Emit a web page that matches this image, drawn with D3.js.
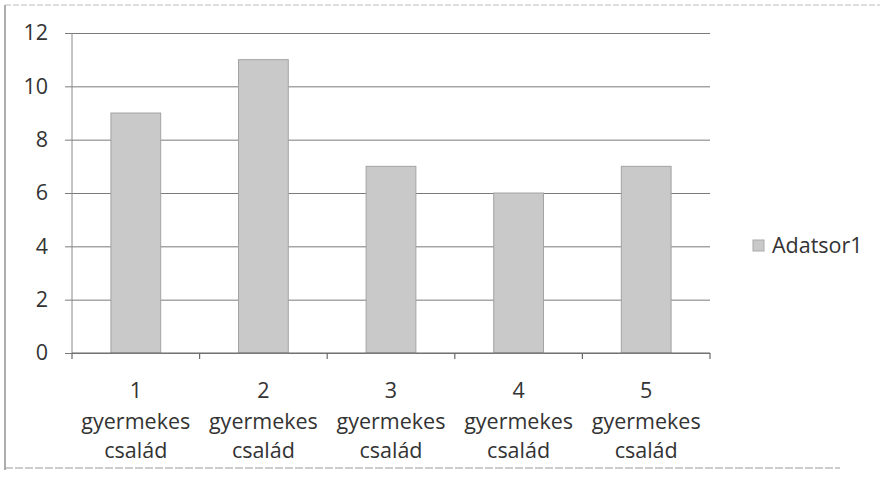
<!DOCTYPE html>
<html>
<head>
<meta charset="utf-8">
<script src="https://cdn.jsdelivr.net/npm/d3@7"></script>
<style>
  html, body { margin: 0; padding: 0; background: #fff; }
  svg { display: block; }
  text { font-family: "Open Sans", Lato, "Noto Sans", sans-serif; fill: #333; }
</style>
</head>
<body>
<svg id="chart" width="885" height="478"></svg>
<script>
const categoryNumbers = ["1", "2", "3", "4", "5"];
const categoryLines = ["gyermekes", "család"];
const values = [9, 11, 7, 6, 7];
const yTicks = [0, 2, 4, 6, 8, 10, 12];
const seriesName = "Adatsor1";

const svg = d3.select("#chart");
const plot = { left: 72, right: 710, top: 33, bottom: 353 };
const FONT = 21.5;

// outer frame (scanned look)
svg.append("line").attr("x1", 5).attr("x2", 5).attr("y1", 5).attr("y2", 470)
  .attr("stroke", "#777").attr("stroke-width", 1.2);
svg.append("line").attr("x1", 5).attr("x2", 880).attr("y1", 5).attr("y2", 5)
  .attr("stroke", "#bbb").attr("stroke-width", 1).attr("stroke-dasharray", "6,2");
svg.append("line").attr("x1", 5).attr("x2", 840).attr("y1", 468).attr("y2", 468)
  .attr("stroke", "#999").attr("stroke-width", 1).attr("stroke-dasharray", "8,2");

const x = d3.scaleBand().domain(categoryNumbers).range([plot.left, plot.right]).paddingInner(0.61).paddingOuter(0.305);
const xEdge = d3.scaleLinear().domain([0, categoryNumbers.length]).range([plot.left, plot.right]);
const y = d3.scaleLinear().domain([0, 12]).range([plot.bottom, plot.top]);

// gridlines and y axis
const yAxis = d3.axisLeft(y).tickValues(yTicks).tickSize(-(plot.right - plot.left)).tickPadding(24);
const gy = svg.append("g").attr("transform", `translate(${plot.left},0)`).call(yAxis);
gy.select(".domain").remove();
gy.selectAll(".tick line").attr("stroke", "#7a7a7a").attr("stroke-width", 1).attr("x1", -7);
gy.selectAll(".tick text").attr("font-size", FONT).attr("fill", "#333")
  .style("font-family", '"Open Sans", Lato, sans-serif');

// vertical axis line
svg.append("line").attr("x1", plot.left).attr("x2", plot.left).attr("y1", plot.top).attr("y2", plot.bottom)
  .attr("stroke", "#8a8a8a").attr("stroke-width", 1);

// bars
svg.append("g").selectAll("rect").data(values).join("rect")
  .attr("x", (d, i) => x(categoryNumbers[i]))
  .attr("y", d => y(d))
  .attr("width", x.bandwidth())
  .attr("height", d => y(0) - y(d))
  .attr("fill", "#c9c9c9")
  .attr("stroke", "#a3a3a3")
  .attr("stroke-width", 1);

// x axis line and ticks
svg.append("line").attr("x1", plot.left).attr("x2", plot.right).attr("y1", plot.bottom).attr("y2", plot.bottom)
  .attr("stroke", "#6a6a6a").attr("stroke-width", 1.2);
svg.append("g").selectAll("line").data(d3.range(categoryNumbers.length + 1)).join("line")
  .attr("x1", d => xEdge(d)).attr("x2", d => xEdge(d))
  .attr("y1", plot.bottom).attr("y2", plot.bottom + 6)
  .attr("stroke", "#6a6a6a").attr("stroke-width", 1.2);

// x labels
const xl = svg.append("g").selectAll("text").data(categoryNumbers).join("text")
  .attr("x", d => x(d) + x.bandwidth() / 2)
  .attr("y", 390)
  .attr("text-anchor", "middle")
  .attr("font-size", FONT);
xl.append("tspan").attr("x", d => x(d) + x.bandwidth() / 2).attr("dy", "0.35em").text(d => d);
categoryLines.forEach((ln, k) => {
  xl.append("tspan").attr("x", d => x(d) + x.bandwidth() / 2).attr("dy", k === 0 ? 31 : 29).text(ln);
});

// legend
const lg = svg.append("g").attr("transform", "translate(753,240)");
lg.append("rect").attr("width", 11).attr("height", 11).attr("fill", "#c9c9c9").attr("stroke", "#aaa");
lg.append("text").attr("x", 19).attr("y", 5.5).attr("dy", "0.35em").attr("font-size", FONT).text(seriesName);
</script>
</body>
</html>
